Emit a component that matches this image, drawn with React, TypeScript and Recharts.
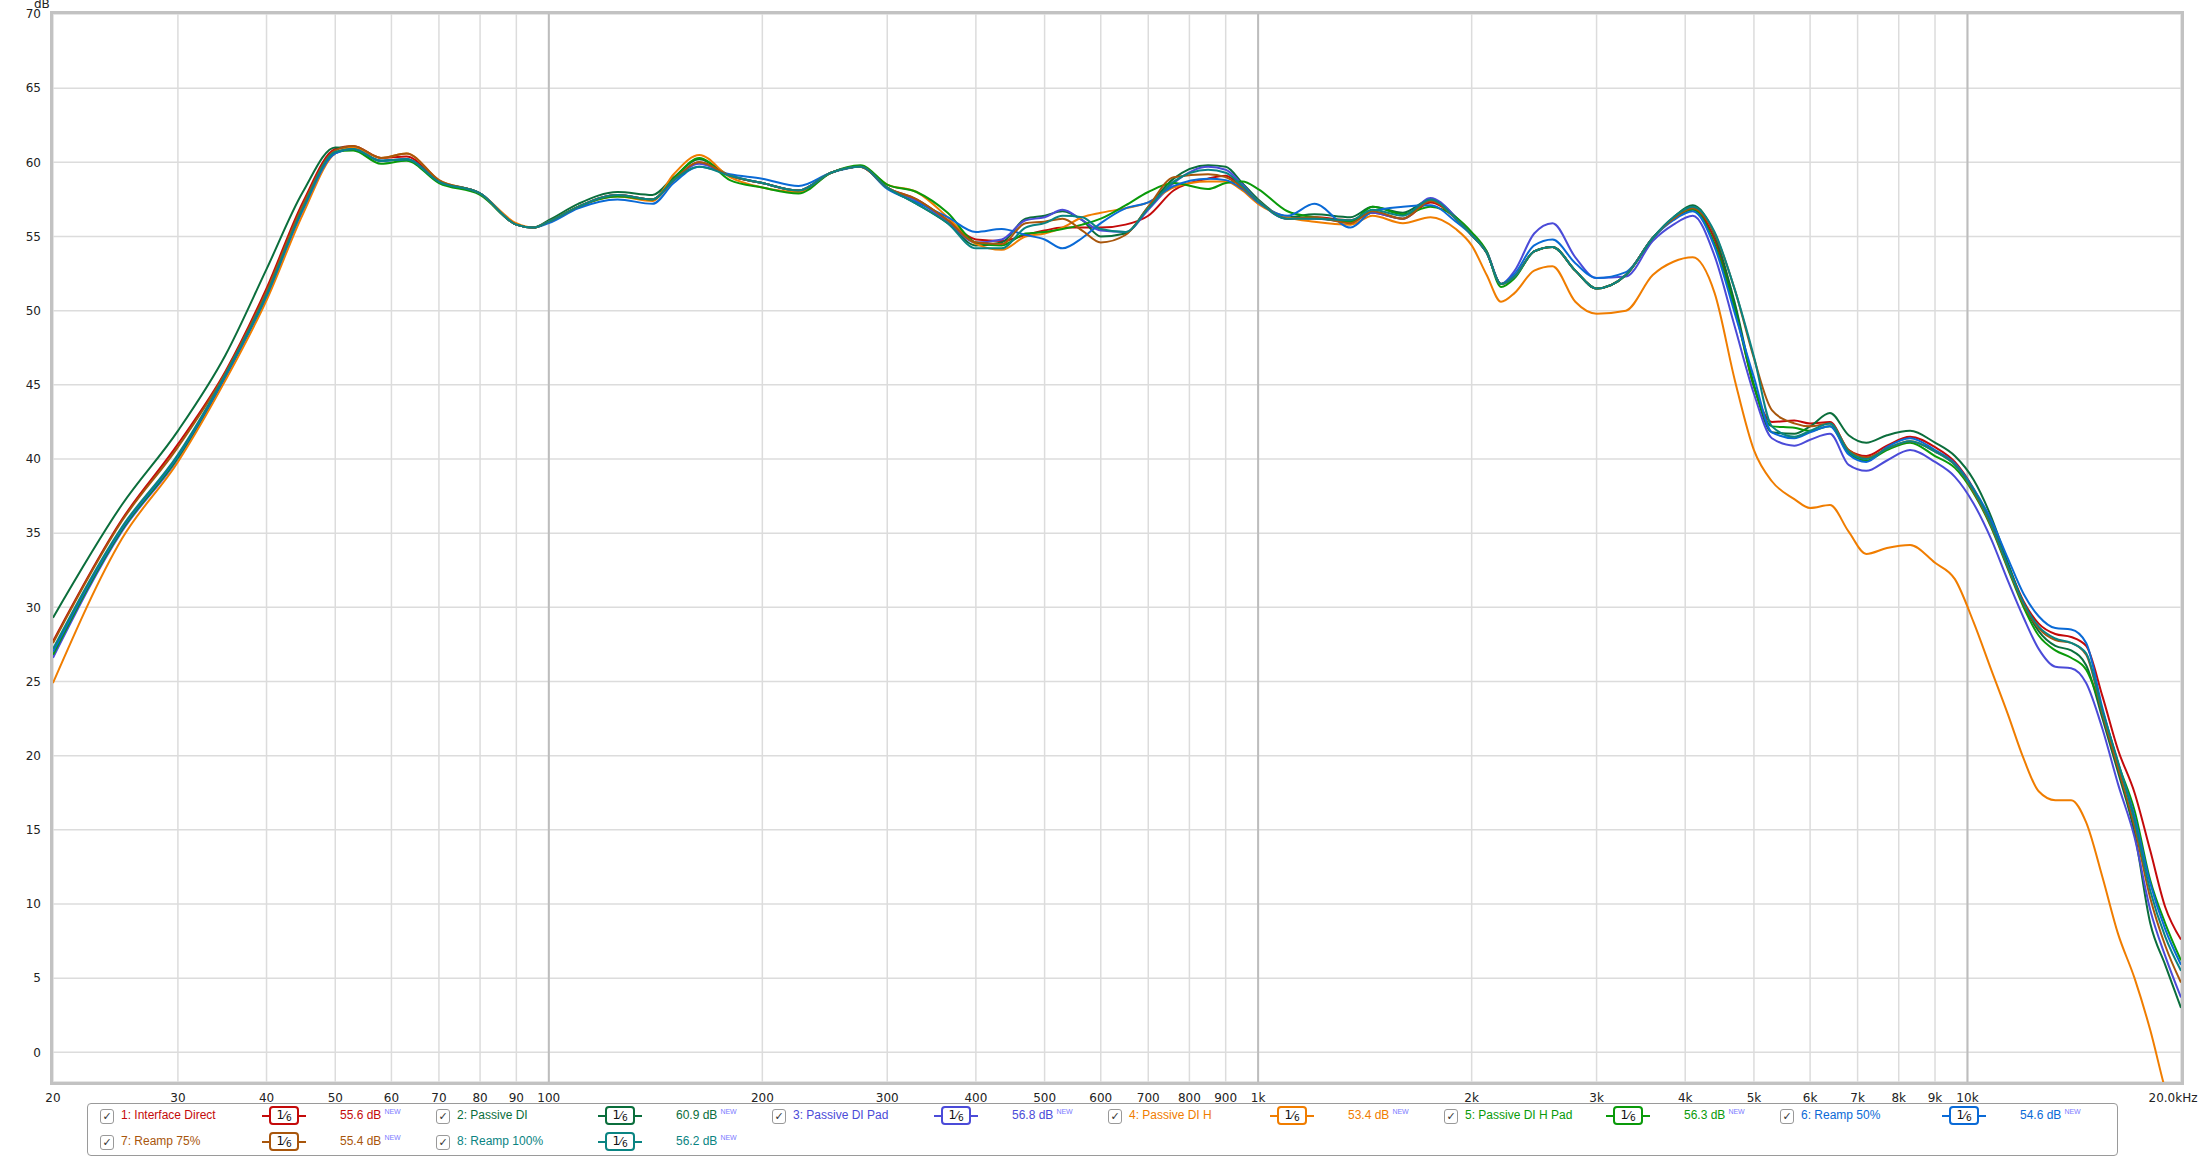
import React from "react";
import {
  LineChart,
  Line,
  XAxis,
  YAxis,
  CartesianGrid,
  ReferenceLine,
} from "recharts";

const freqs = [
  20, 25, 30, 35, 40, 45, 50, 53, 58, 63,
  70, 80, 90, 95, 100, 110, 125, 140, 150, 163,
  180, 200, 225, 250, 275, 300, 330, 365, 400, 435,
  470, 500, 530, 565, 600, 650, 700, 760, 850, 900,
  950, 1000, 1100, 1200, 1350, 1450, 1600, 1750, 1900, 2000,
  2100, 2200, 2300, 2450, 2600, 2800, 3000, 3300, 3600, 3850,
  4100, 4400, 4700, 5000, 5300, 5700, 6000, 6400, 6800, 7200,
  7700, 8300, 9000, 9600, 10200, 10800, 11400, 12000, 12600, 13300,
  14000, 14700, 15500, 16300, 17200, 18100, 19000, 20000,
];

const interfaceDirect = [
  27.7, 35.9, 41.0, 45.9, 51.5, 57.3, 60.9, 61.1, 60.3, 60.4,
  58.7, 57.9, 55.8, 55.6, 56.0, 57.0, 57.8, 57.5, 58.8, 60.0,
  59.1, 58.6, 58.1, 59.3, 59.7, 58.3, 57.5, 56.1, 54.8, 54.7,
  55.1, 55.4, 55.6, 55.6, 55.6, 55.8, 56.4, 58.1, 58.9, 59.1,
  58.3, 57.4, 56.2, 56.3, 56.1, 56.6, 56.2, 57.3, 56.2, 55.1,
  53.9, 51.8, 52.3, 54.0, 54.3, 52.7, 51.5, 52.4, 54.9, 56.2,
  56.9, 54.8, 50.3, 44.9, 42.5, 42.6, 42.4, 42.5, 40.6, 40.2,
  40.9, 41.5, 40.8, 39.8, 38.0, 35.7, 32.9, 30.4, 28.9, 28.2,
  28.0, 27.4, 24.0, 20.4, 17.5, 13.6, 9.8, 7.6,
];

const passiveDI = [
  29.3, 36.9, 41.9, 47.0, 52.8, 58.0, 61.0, 60.9, 60.1, 60.2,
  58.7, 57.9, 55.8, 55.6, 56.1, 57.2, 58.0, 57.8, 59.0, 60.2,
  59.1, 58.6, 58.1, 59.3, 59.7, 58.3, 57.2, 55.9, 54.4, 54.6,
  56.2, 56.4, 56.7, 56.1, 55.0, 55.2, 57.0, 58.9, 59.8, 59.7,
  58.6, 57.5, 56.3, 56.5, 56.3, 57.0, 56.6, 57.5, 56.3, 55.1,
  53.9, 51.8, 52.3, 54.0, 54.3, 52.7, 51.5, 52.4, 54.9, 56.3,
  57.1, 55.1, 50.5, 45.0, 41.8, 41.7, 42.2, 43.1, 41.6, 41.1,
  41.6, 41.9, 41.1, 40.2, 38.6, 36.1, 33.0, 30.2, 28.4, 27.4,
  27.1, 26.1, 22.5, 18.9, 14.8, 8.7, 5.9, 3.0,
];

const passiveDIPad = [
  26.6, 35.1, 40.0, 45.5, 51.0, 56.8, 60.6, 60.9, 60.1, 60.2,
  58.7, 57.9, 55.8, 55.6, 56.0, 57.0, 57.8, 57.5, 58.8, 59.9,
  59.1, 58.6, 58.1, 59.3, 59.7, 58.3, 57.4, 56.0, 54.6, 54.8,
  56.1, 56.3, 56.8, 56.1, 55.4, 55.3, 56.8, 58.6, 59.7, 59.5,
  58.5, 57.4, 56.2, 56.2, 56.0, 56.6, 56.2, 57.6, 56.3, 55.1,
  54.0, 51.8, 52.7, 55.2, 55.9, 53.6, 52.2, 52.3, 54.7, 55.8,
  56.4, 53.7, 48.9, 44.4, 41.4, 40.9, 41.3, 41.7, 39.6, 39.2,
  39.9, 40.6, 39.8, 38.8, 37.0, 34.6, 31.8, 29.3, 27.2, 26.0,
  25.9, 24.9, 21.8, 18.1, 14.5, 9.6, 6.5, 3.7,
];

const passiveDIH = [
  24.9, 34.6, 39.8, 45.3, 50.7, 56.5, 60.6, 61.0, 60.3, 60.6,
  58.8, 57.9, 55.9, 55.6, 56.0, 57.0, 57.7, 57.4, 59.2, 60.5,
  59.0, 58.3, 58.0, 59.3, 59.7, 58.5, 58.0, 56.3, 54.5, 54.1,
  55.0, 55.2, 55.6, 56.3, 56.6, 56.9, 57.3, 58.3, 58.7, 58.7,
  58.1, 57.2, 56.3, 56.0, 55.8, 56.4, 55.9, 56.3, 55.5, 54.4,
  52.4, 50.6, 51.2, 52.7, 53.0, 50.6, 49.8, 50.0, 52.4, 53.3,
  53.6, 51.2, 45.3, 40.6, 38.5, 37.3, 36.7, 36.9, 35.1, 33.6,
  34.0, 34.2, 33.0, 31.9, 29.0, 25.8, 22.8, 19.8, 17.6, 17.0,
  17.0, 15.5, 11.8, 8.0, 5.0, 1.5, -2.5, -6.0,
];

const passiveDIHPad = [
  26.8, 35.2, 40.1, 45.6, 51.0, 56.9, 60.7, 60.8, 59.9, 60.1,
  58.6, 57.8, 55.8, 55.6, 56.0, 57.0, 57.7, 57.5, 58.9, 60.3,
  58.8, 58.3, 57.9, 59.3, 59.8, 58.5, 58.0, 56.6, 54.6, 54.4,
  55.2, 55.3, 55.5, 55.8, 56.2, 57.1, 58.0, 58.6, 58.2, 58.6,
  58.7, 58.2, 56.7, 56.3, 56.0, 57.0, 56.5, 57.0, 56.3, 55.3,
  54.0, 51.6, 52.2, 54.0, 54.3, 52.7, 51.5, 52.4, 54.9, 56.2,
  56.8, 54.5, 50.1, 44.9, 42.2, 42.1, 41.9, 42.2, 40.4, 39.9,
  40.6, 41.1, 40.2, 39.4, 37.7, 35.4, 32.6, 30.0, 28.1, 27.1,
  26.6, 25.8, 23.0, 19.5, 16.3, 11.6, 8.7, 6.2,
];

const reamp50 = [
  27.0, 35.3, 40.2, 45.6, 51.0, 56.8, 60.6, 60.9, 60.1, 60.2,
  58.7, 57.9, 55.8, 55.6, 55.9, 56.9, 57.5, 57.2, 58.6, 59.7,
  59.2, 58.9, 58.4, 59.3, 59.7, 58.2, 57.3, 56.3, 55.3, 55.5,
  55.1, 54.8, 54.2, 54.9, 55.9, 56.9, 57.3, 58.4, 58.9, 58.8,
  58.2, 57.3, 56.4, 57.2, 55.6, 56.7, 57.0, 57.1, 56.0, 55.1,
  53.9, 51.8, 52.5, 54.4, 54.8, 53.2, 52.2, 52.6, 54.9, 56.1,
  56.7, 54.3, 49.8, 45.5, 41.8, 41.4, 41.8, 42.2, 40.3, 39.8,
  40.8, 41.4, 40.6, 39.7, 38.0, 35.9, 33.3, 30.9, 29.4, 28.6,
  28.5, 27.6, 23.2, 19.5, 15.9, 11.4, 8.3, 5.9,
];

const reamp75 = [
  27.6, 35.8, 40.8, 45.8, 51.3, 57.1, 60.8, 61.1, 60.3, 60.6,
  58.8, 57.9, 55.8, 55.6, 56.0, 57.0, 57.8, 57.5, 58.8, 60.0,
  59.1, 58.6, 58.1, 59.3, 59.7, 58.3, 57.5, 56.1, 54.6, 54.5,
  55.9, 56.0, 56.2, 55.4, 54.6, 55.1, 57.0, 59.0, 59.2, 59.0,
  58.3, 57.4, 56.2, 56.3, 55.9, 56.7, 56.2, 57.4, 56.2, 55.1,
  53.9, 51.8, 52.3, 54.0, 54.3, 52.7, 51.5, 52.4, 54.9, 56.2,
  56.9, 55.2, 51.4, 46.8, 43.3, 42.4, 42.2, 42.4, 40.6, 40.1,
  40.7, 41.2, 40.5, 39.6, 37.8, 35.5, 32.7, 30.2, 28.6, 27.8,
  27.6, 26.8, 22.8, 19.2, 15.2, 10.4, 7.2, 4.7,
];

const reamp100 = [
  27.2, 35.4, 40.3, 45.7, 51.1, 56.9, 60.7, 60.9, 60.1, 60.2,
  58.7, 57.9, 55.8, 55.6, 56.0, 57.0, 57.8, 57.5, 58.8, 59.7,
  59.1, 58.6, 58.1, 59.3, 59.7, 58.3, 57.2, 55.9, 54.2, 54.2,
  55.6, 55.9, 56.4, 56.3, 55.5, 55.3, 56.9, 58.7, 59.5, 59.3,
  58.4, 57.4, 56.2, 56.2, 56.1, 56.8, 56.4, 57.5, 56.2, 55.1,
  53.9, 51.8, 52.3, 54.0, 54.3, 52.7, 51.5, 52.4, 54.9, 56.3,
  57.0, 55.3, 51.4, 46.9, 42.2, 41.5, 41.9, 42.4, 40.5, 40.0,
  40.7, 41.2, 40.5, 39.6, 37.9, 35.6, 32.8, 30.3, 28.7, 27.9,
  27.6, 26.9, 23.0, 19.6, 15.6, 10.9, 7.8, 5.5,
];

const xTicks = [
  20, 30, 40, 50, 60, 70, 80, 90, 100, 200, 300, 400, 500, 600, 700, 800,
  900, 1000, 2000, 3000, 4000, 5000, 6000, 7000, 8000, 9000, 10000, 20000,
];
const yTicks = [0, 5, 10, 15, 20, 25, 30, 35, 40, 45, 50, 55, 60, 65, 70];

const series = [
  { key: "s1", name: "1: Interface Direct", color: "#c40a0a", level: "55.6 dB", values: interfaceDirect },
  { key: "s2", name: "2: Passive DI", color: "#0b6e3c", level: "60.9 dB", values: passiveDI },
  { key: "s3", name: "3: Passive DI Pad", color: "#4b4bd8", level: "56.8 dB", values: passiveDIPad },
  { key: "s4", name: "4: Passive DI H", color: "#f07d00", level: "53.4 dB", values: passiveDIH },
  { key: "s5", name: "5: Passive DI H Pad", color: "#0a9a0a", level: "56.3 dB", values: passiveDIHPad },
  { key: "s6", name: "6: Reamp 50%", color: "#0a6ad6", level: "54.6 dB", values: reamp50 },
  { key: "s7", name: "7: Reamp 75%", color: "#a8560c", level: "55.4 dB", values: reamp75 },
  { key: "s8", name: "8: Reamp 100%", color: "#0a8482", level: "56.2 dB", values: reamp100 },
];

const data = freqs.map((f, i) => {
  const row: Record<string, number> = { f };
  series.forEach((s) => {
    row[s.key] = s.values[i];
  });
  return row;
});

const FONT = "'DejaVu Sans', sans-serif";
const LEGEND_FONT = "'Liberation Sans Narrow', 'Liberation Sans', sans-serif";

const fmtFreq = (v: number) => {
  if (v === 20000) return "20.0kHz";
  if (v >= 1000) return `${v / 1000}k`;
  return `${v}`;
};

const XTick = (props: any) => {
  const { x, y, payload } = props;
  const dx = payload.value === 20000 ? -8 : 0;
  return (
    <text x={x + dx} y={y} dy="0.71em" textAnchor="middle" fontSize={12} fill="#222" fontFamily={FONT}>
      {fmtFreq(payload.value)}
    </text>
  );
};

const FilterBox = ({ color }: { color: string }) => (
  <div style={{ position: "relative", width: 44, height: 19 }}>
    <div style={{ position: "absolute", left: 0, top: 9, width: 44, height: 2, background: color }} />
    <div
      style={{
        position: "absolute",
        left: 7,
        top: 0,
        width: 26,
        height: 15,
        border: `2px solid ${color}`,
        borderRadius: 4,
        background: "#fff",
        fontSize: 12,
        lineHeight: "15px",
        textAlign: "center",
        color: "#111",
        fontFamily: FONT,
      }}
    >
      1<span style={{ fontSize: 11 }}>⁄</span>
      <span style={{ fontSize: 9, position: "relative", top: 2 }}>6</span>
    </div>
  </div>
);

const LegendItem = ({ s, col, row }: { s: (typeof series)[number]; col: number; row: number }) => {
  const base = 12 + 336 * col;
  const top = row === 0 ? 5 : 31;
  return (
    <>
      <div
        style={{
          position: "absolute",
          left: base,
          top: top,
          width: 12,
          height: 13,
          border: "1px solid #999",
          borderRadius: 3,
          fontSize: 11,
          lineHeight: "13px",
          textAlign: "center",
          color: "#333",
          background: "#fff",
        }}
      >
        ✓
      </div>
      <div
        style={{
          position: "absolute",
          left: base + 21,
          top: top - 1,
          fontSize: 12,
          color: s.color,
          fontFamily: LEGEND_FONT,
          whiteSpace: "nowrap",
        }}
      >
        {s.name}
      </div>
      <div style={{ position: "absolute", left: base + 162, top: top - 3 }}>
        <FilterBox color={s.color} />
      </div>
      <div
        style={{
          position: "absolute",
          left: base + 240,
          top: top - 1,
          fontSize: 12,
          color: s.color,
          fontFamily: LEGEND_FONT,
          whiteSpace: "nowrap",
        }}
      >
        {s.level}
        <span style={{ fontSize: 7, color: "#7b7bff", position: "relative", top: -5, marginLeft: 3 }}>NEW</span>
      </div>
    </>
  );
};

const App: React.FC = () => {
  return (
    <div style={{ position: "absolute", left: 0, top: 0, width: 2206, height: 1159, background: "#fff", fontFamily: FONT }}>
      <LineChart
        width={2206}
        height={1159}
        data={data}
        margin={{ top: 14, right: 25, bottom: 0, left: 0 }}
      >
        <CartesianGrid stroke="#dcdcdc" strokeWidth={1.5} />
        <XAxis
          dataKey="f"
          type="number"
          scale="log"
          domain={[20, 20000]}
          allowDataOverflow
          ticks={xTicks}
          interval={0}
          tick={<XTick />}
          tickLine={false}
          axisLine={false}
          tickMargin={5}
          height={77}
        />
        <YAxis
          type="number"
          domain={[-2, 70]}
          allowDataOverflow
          ticks={yTicks}
          interval={0}
          tick={{ fontSize: 12, fill: "#222", fontFamily: FONT }}
          tickLine={false}
          axisLine={false}
          tickMargin={6}
          width={53}
        />
        <ReferenceLine x={100} stroke="#bdbdbd" strokeWidth={2} />
        <ReferenceLine x={1000} stroke="#bdbdbd" strokeWidth={2} />
        <ReferenceLine x={10000} stroke="#bdbdbd" strokeWidth={2} />
        {series.map((s) => (
          <Line
            key={s.key}
            dataKey={s.key}
            name={s.name}
            type="monotone"
            stroke={s.color}
            strokeWidth={2}
            dot={false}
            activeDot={false}
            isAnimationActive={false}
          />
        ))}
      </LineChart>
      <div
        style={{
          position: "absolute",
          left: 50,
          top: 11,
          width: 2134,
          height: 1074,
          boxSizing: "border-box",
          border: "3px solid #c2c2c2",
          pointerEvents: "none",
        }}
      />
      <div style={{ position: "absolute", left: 34, top: -3, fontSize: 12, color: "#222" }}>dB</div>
      <div
        style={{
          position: "absolute",
          left: 87,
          top: 1103,
          width: 2031,
          height: 53,
          boxSizing: "border-box",
          border: "1px solid #9a9a9a",
          borderRadius: 4,
          background: "#fff",
        }}
      >
        {series.map((s, i) => (
          <LegendItem key={s.key} s={s} col={i < 6 ? i : i - 6} row={i < 6 ? 0 : 1} />
        ))}
      </div>
    </div>
  );
};

export default App;
